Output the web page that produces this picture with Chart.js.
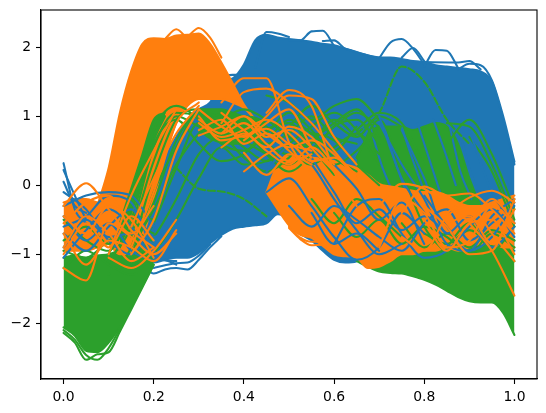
<!DOCTYPE html>
<html>
<head>
<meta charset="utf-8">
<style>
  html, body { margin: 0; background: #fff; }
  #wrap { width: 546px; height: 413px; }
</style>
<script src="https://cdn.jsdelivr.net/npm/chart.js@4/dist/chart.umd.min.js"></script>
</head>
<body>
<div id="wrap"><canvas id="chart"></canvas></div>
<script>
const _ = null;
const BLUE = '#1f77b4', ORANGE = '#ff7f0e', GREEN = '#2ca02c';

const xTicks = [0, 0.2, 0.4, 0.6, 0.8, 1];
const yTicks = [-2, -1, 0, 1, 2];

// fine grid (0.025) for the outer edges of the dense bundles
const xFine = [0, .025, .05, .075, .1, .125, .15, .175, .2, .225, .25, .275, .3, .325, .35, .375, .4, .425, .45, .475, .5,
  .525, .55, .575, .6, .625, .65, .675, .7, .725, .75, .775, .8, .825, .85, .875, .9, .925, .95, .975, 1];
// coarse grid (0.05) for single curves picked out of the bundles
const xCoarse = [0, .05, .1, .15, .2, .25, .3, .35, .4, .45, .5, .55, .6, .65, .7, .75, .8, .85, .9, .95, 1];

const blueTop = [_, _, _, _, _, -1, -.9, -.6, 0, .4, .7, .95, 1.1, 1.2, 1.5, 1.55, 1.75, 2.1, 2.18, 2.14, 2.12,
  2.1, 2.08, 2.05, 2.03, 1.98, 1.93, 1.88, 1.85, 1.85, 1.83, 1.8, 1.78, 1.74, 1.72, 1.7, 1.68, 1.65, 1.5, .95, .3];
const blueBottom = [_, _, _, _, _, -1.1, -1.1, -1.1, -1.12, -1.08, -1.05, -1.05, -.98, -.84, -.72, -.63, -.6, -.58, -.55, -.42, -.5,
  -.7, -.8, -.95, -1.08, -1.12, -1.1, -1, -1, -.95, -.95, -.95, -.95, -.95, -.95, -.95, -.95, -.95, -.95, -.95, -.95];
const blueEdgeA = [_, _, _, _, _, _, _, -1.15, -1.28, -1.22, -1.2, -1.22, -1.08, -.9, -.74, _, _, _, _, _, _,
  _, _, _, _, _, _, _, _, _, _, _, _, _, _, _, _, _, _, _, _];
const blueEdgeB = [_, _, _, _, _, _, _, _, -1.2, -1.16, -1.13, -1.12, -1.02, -.86, _, _, _, _, _, _, _,
  _, _, _, _, _, _, _, _, _, _, _, _, _, _, _, _, _, _, _, _];

const greenLeftTop = [-1.05, -1.02, -1.05, -1.02, -1, -.95, -.95, -.95, -1, _, _, _, _, _, _, _, _, _, _, _, _,
  _, _, _, _, _, _, _, _, _, _, _, _, _, _, _, _, _, _, _, _];
const greenLeftBottom = [-2.06, -2.18, -2.4, -2.42, -2.28, -2.05, -1.76, -1.46, -1.15, _, _, _, _, _, _, _, _, _, _, _, _,
  _, _, _, _, _, _, _, _, _, _, _, _, _, _, _, _, _, _, _, _];
const greenEdgeA = [-2.14, -2.28, -2.53, -2.45, -2.42, -2.12, -1.8, -1.48, -1.15, _, _, _, _, _, _, _, _, _, _, _, _,
  _, _, _, _, _, _, _, _, _, _, _, _, _, _, _, _, _, _, _, _];
const greenEdgeB = [-2.1, -2.24, -2.46, -2.53, -2.36, -2.08, -1.78, _, _, _, _, _, _, _, _, _, _, _, _, _, _,
  _, _, _, _, _, _, _, _, _, _, _, _, _, _, _, _, _, _, _, _];
const greenStripeTop = [_, _, _, _, _, -.55, -.05, .45, .95, 1.05, _, _, _, _, _, _, _, _, _, _, _,
  _, _, _, _, _, _, _, _, _, _, _, _, _, _, _, _, _, _, _, _];
const greenStripeBottom = [_, _, _, _, _, -.9, -.4, .1, .65, 1, _, _, _, _, _, _, _, _, _, _, _,
  _, _, _, _, _, _, _, _, _, _, _, _, _, _, _, _, _, _, _, _];
const greenMidTop = [_, _, _, _, _, _, _, _, _, _, _, _, 1.1, 1.1, 1.1, 1.05, 1, .98, .9, _, _,
  _, _, _, _, _, _, _, _, _, _, _, _, _, _, _, _, _, _, _, _];
const greenMidBottom = [_, _, _, _, _, _, _, _, _, _, _, _, .8, .68, .62, .6, .62, .7, .9, _, _,
  _, _, _, _, _, _, _, _, _, _, _, _, _, _, _, _, _, _, _, _];
const greenRightTop = [_, _, _, _, _, _, _, _, _, _, _, _, _, _, _, _, _, _, _, _, _,
  _, _, _, _, _, .4, .7, .85, .85, .85, .8, .85, .9, .85, .6, .1, -.3, -.6, -.7, -.8];
const greenRightBottom = [_, _, _, _, _, _, _, _, _, _, _, _, _, _, _, _, _, _, _, _, _,
  _, _, _, _, _, -1.1, -1.18, -1.25, -1.27, -1.28, -1.32, -1.37, -1.44, -1.53, -1.62, -1.68, -1.7, -1.7, -1.85, -2.17];

const orangeBodyTop = [_, _, _, -.3, .25, 1.05, 1.65, 2.05, 2.13, 2.12, 2.17, 2.18, 2.2, 2.05, 1.78, 1.48, 1.17, .95, _, _, _,
  _, _, _, _, _, _, _, _, _, _, _, _, _, _, _, _, _, _, _, _];
const orangeBodyBottom = [_, _, _, -.8, -.85, -1, -1, -.75, -.2, .4, .9, 1.15, 1.25, 1.25, 1.25, 1.2, 1.12, .95, _, _, _,
  _, _, _, _, _, _, _, _, _, _, _, _, _, _, _, _, _, _, _, _];
const orangeStartTop = [-.25, -.2, -.2, -.25, -.3, _, _, _, _, _, _, _, _, _, _, _, _, _, _, _, _,
  _, _, _, _, _, _, _, _, _, _, _, _, _, _, _, _, _, _, _, _];
const orangeStartBottom = [-.95, -.95, -.95, -.9, -.85, _, _, _, _, _, _, _, _, _, _, _, _, _, _, _, _,
  _, _, _, _, _, _, _, _, _, _, _, _, _, _, _, _, _, _, _, _];
const orangeDipTop = [_, _, _, _, _, _, _, _, _, _, _, _, _, _, _, _, _, _, -.1, .3, .42,
  .42, .4, .38, .35, .3, .25, .15, .02, -.02, -.05, -.08, -.1, -.1, -.15, -.25, -.3, -.3, -.25, -.2, -.15];
const orangeDipBottom = [_, _, _, _, _, _, _, _, _, _, _, _, _, _, _, _, _, _, -.1, -.35, -.58,
  -.72, -.76, -.88, -1, -1.03, -1.05, -1.2, -1.18, -1.1, -1, -1, -.95, -.95, -.9, -.95, -.9, -.85, -.85, -.9, -.9];
const orangeEdgeB = [_, _, _, _, _, _, _, _, _, _, _, _, _, _, _, _, _, _, _, _, -.62,
  -.78, -.87, -.86, -1, _, _, _, _, _, _, _, _, _, _, _, _, _, _, _, _];
const orangeEdgeC = [_, _, _, _, _, _, _, _, _, _, _, _, _, _, _, _, _, _, _, _, -.6,
  -.76, -.82, -.82, -.95, _, _, _, _, _, _, _, _, _, _, _, _, _, _, _, _];

// bumps standing above the top of the blue bundle
const blueCrestA = [_, _, _, _, _, _, _, _, _, _, _, _, _, _, _, _, _, _, _, _, 2.1,
  2.1, 2.23, 2.24, 2.02, _, _, _, _, _, _, _, _, _, _, _, _, _, _, _, _];
const blueCrestB = [_, _, _, _, _, _, _, _, _, _, _, _, _, _, _, _, _, _, _, _, _,
  _, _, _, _, _, _, _, 1.84, 2.07, 2.12, 1.98, 1.75, _, _, _, _, _, _, _, _];
const blueCrestC = [_, _, _, _, _, _, _, _, _, _, _, _, _, _, _, _, _, _, _, _, _,
  _, _, _, _, _, _, _, _, _, _, _, 1.72, 1.96, 1.95, 1.7, _, _, _, _, _];
const blueCrestD = [_, _, _, _, _, _, _, _, _, _, _, _, _, _, _, _, _, _, _, _, _,
  _, _, _, _, _, _, _, _, _, _, _, _, _, _, 1.68, 1.76, 1.74, 1.52, 1, .34];
const blueCrestE = [_, _, _, _, _, _, _, _, _, _, _, _, _, _, _, _, _, 1.7, 2.22, 2.2, 2.15,
  _, _, _, _, _, _, _, _, _, _, _, _, _, _, _, _, _, _, _, _];
const blueCrestF = [_, _, _, _, _, _, _, _, _, _, _, _, _, _, _, _, _, _, _, _, _,
  _, _, _, _, _, _, _, _, _, 1.85, 1.99, 1.8, _, _, _, _, _, _, _, _];
const blueCrestG = [_, _, _, _, _, _, _, _, _, _, _, _, _, _, _, _, _, _, _, _, _,
  _, _, 2.09, 2.1, 1.98, _, _, _, _, _, _, _, _, _, 1.78, 1.8, 1.68, _, _, _];
const orangeCrestA = [_, _, _, _, _, _, _, _, _, 2.12, 2.26, 2.12, _, _, _, _, _, _, _, _, _,
  _, _, _, _, _, _, _, _, _, _, _, _, _, _, _, _, _, _, _, _];
const orangeCrestB = [_, _, _, _, _, _, _, _, _, _, _, 2.15, 2.28, 2.14, 1.85, _, _, _, _, _, _,
  _, _, _, _, _, _, _, _, _, _, _, _, _, _, _, _, _, _, _, _];
const blueSpikes = [
  [.32, -.35, -.55, _, _, _, _, _, _, _, _, _, _, _, _, _, _, _, _, _, _, _, _, _, _, _, _, _, _, _, _, _, _, _, _, _, _, _, _, _, _],
  [.22, -.15, -.5, _, _, _, _, _, _, _, _, _, _, _, _, _, _, _, _, _, _, _, _, _, _, _, _, _, _, _, _, _, _, _, _, _, _, _, _, _, _],
  [.05, -.3, -.4, _, _, _, _, _, _, _, _, _, _, _, _, _, _, _, _, _, _, _, _, _, _, _, _, _, _, _, _, _, _, _, _, _, _, _, _, _, _]
];
const blueFlat = [_, _, _, _, _, _, _, _, _, _, _, _, _, _, 1.58, 1.6, 1.6, 1.6, _, _, _,
  _, _, _, _, _, _, _, _, _, _, _, _, _, _, _, _, _, _, _, _];

// steep streaks through the green part on the right: first x, then values every 0.025
const stripeStarts = [.68, .71, .745, .785, .82, .855, .875];
const stripeValues = [
  [.85, .3, -.1], [.9, .35, -.1], [.95, .45, 0], [.9, .4, -.1], [.95, .5, 0], [.9, .2, -.2], [.85, .25, -.2]
];

const blueCurves = [
  [-.3, -.15, -.1, -.15, -.6, _, _, _, _, _, _, _, _, _, _, _, _, _, _, _, _],
  [-.6, -.45, -.15, -.25, -.95, -1.15, _, _, _, _, _, _, _, _, _, _, _, _, _, _, _],
  [-.9, -.5, -.75, -.7, -.85, -.95, _, _, _, _, _, _, _, _, _, _, _, _, _, _, _],
  [-.1, -.35, -.8, -1, -.55, _, _, _, _, _, _, _, _, _, _, _, _, _, _, _, _],
  [-.7, -.95, -.6, -.35, -.75, -.5, _, _, _, _, _, _, _, _, _, _, _, _, _, _, _],
  [-1.05, -.65, -.35, -.6, -1.05, -1.1, _, _, _, _, _, _, _, _, _, _, _, _, _, _, _],
  [-.45, -.8, -.55, -.95, -1.1, _, _, _, _, _, _, _, _, _, _, _, _, _, _, _, _],
  [_, _, _, _, _, _, _, _, _, .2, .55, .3, -.2, -.65, -1, -.85, _, _, _, _, _],
  [_, _, _, _, _, _, _, _, _, -.1, .1, -.3, -.75, -1.08, -.9, -.4, -.7, _, _, _, _],
  [_, _, _, _, _, _, _, _, _, _, -.3, -.6, -.3, -.5, -.75, -.95, -.55, -.35, -.8, -.55, -.3],
  [_, _, _, _, _, _, _, _, _, _, _, _, -.85, -.3, -.2, -.7, -1.05, -.95, -.6, -.35, -.75],
  [_, _, _, _, _, _, _, _, _, _, _, _, _, _, .9, .3, -.2, -.85, -.95, -.45, -.2],
  [_, _, _, _, _, _, _, _, _, _, _, _, _, _, _, .8, .1, -.7, -.45, -.9, -.6],
  [_, _, _, _, _, _, _, _, _, _, _, _, _, _, _, _, _, _, .8, -.1, -.55],
  [_, _, _, _, _, _, _, _, _, _, _, _, _, _, 1, .1, -.4, _, _, _, _],
  [_, _, _, _, _, _, _, _, _, _, _, _, _, _, _, _, -.15, -.6, -.95, -.75, -.25],
  [_, _, _, _, _, _, _, _, _, _, _, .4, -.1, -.55, -.35, -.65, -.45, -.7, _, _, _],
  [_, _, _, _, _, _, _, _, _, _, _, _, .3, -.05, -.5, -.25, -.85, _, _, _, _],
  [_, _, _, _, _, _, _, _, _, _, _, -.4, -.85, -.7, -.95, _, _, _, _, _, _]
];
const greenCurves = [
  [_, _, -1.1, -.6, .55, 1.05, 1, .85, .8, .7, .95, .75, .5, .85, _, _, _, _, _, _, _],
  [_, _, -1.3, -.9, .15, .95, 1.1, 1, .75, .6, .75, 1, .7, .6, _, _, _, _, _, _, _],
  [_, _, _, -1, -.25, .65, 1.05, 1.05, .9, .6, .45, .65, .9, 1.1, .7, _, _, _, _, _, _],
  [_, _, _, -.75, .35, 1, .85, .7, .95, .85, .5, .3, .55, .75, .45, _, _, _, _, _, _],
  [_, _, -1, -.35, .8, 1.15, .95, .6, .5, .75, 1.05, .8, .4, .2, _, _, _, _, _, _, _],
  [_, _, _, -1.1, -.55, .25, .9, .8, .55, .35, .6, .85, 1.05, .8, .3, _, _, _, _, _, _],
  [_, _, _, -1.05, -.75, -.2, .45, .7, .4, .2, .4, .75, .65, .3, 0, _, _, _, _, _, _],
  [_, _, -1.15, -.5, .6, .95, .6, .35, .45, .8, .9, .55, .15, _, _, _, _, _, _, _, _],
  [_, _, _, -1.1, -.1, .55, 1.05, .9, .65, .45, .3, .6, .95, .7, _, _, _, _, _, _, _],
  [_, _, _, -.9, -.35, .3, .75, 1, .8, .45, .2, .45, .85, .95, .6, _, _, _, _, _, _],
  [_, _, _, _, -1, -.5, .1, .55, .3, .35, .55, .65, .3, .5, .85, _, _, _, _, _, _],
  [_, _, _, _, _, _, _, .95, 1.1, .95, .7, .55, .85, 1.05, .85, _, _, _, _, _, _],
  [_, _, _, _, _, _, _, _, _, 1.3, 1.2, .95, 1.15, 1.25, .95, _, _, _, _, _, _],
  [_, _, _, _, _, _, _, _, _, _, .85, 1.15, .9, .7, 1, .85, _, _, _, _, _],
  [-.95, -1.05, -.8, -.65, -.85, _, _, _, _, _, _, _, _, _, _, _, _, _, _, _, _],
  [-.5, -.8, -.95, -.55, -.7, _, _, _, _, _, _, _, _, _, _, _, _, _, _, _, _],
  [-.8, -.6, -.85, -.45, -.5, _, _, _, _, _, _, _, _, _, _, _, _, _, _, _, _],
  [-1.2, -.95, -1.15, -1.3, -1, _, _, _, _, _, _, _, _, _, _, _, _, _, _, _, _],
  [_, _, _, _, _, _, _, _, _, _, _, _, _, .4, .95, .2, -.6, -1, _, _, _],
  [_, _, _, _, _, _, _, _, _, _, _, _, _, _, _, _, _, -.9, -.55, -.95, -.6],
  [_, _, _, _, _, _, _, _, _, _, _, _, -.4, -.75, -.5, -.85, -.6, -.75, -1, -.7, -.9],
  [_, _, _, _, _, _, _, _, _, _, _, _, _, .8, 1.05, .9, .3, _, _, _, _],
  [_, _, _, _, _, _, _, _, _, _, _, _, _, _, _, _, _, .9, .85, .3, -.5],
  [_, _, _, _, _, _, _, _, _, _, _, _, _, _, _, _, _, .6, .95, .45, -.35],
  [_, _, _, _, _, _, _, _, _, _, _, _, _, _, _, _, _, _, .7, .2, -.6],
  [_, _, _, _, _, _, _, _, _, _, _, _, _, _, _, _, -.7, -.85, -.65, -.9, -1.1],
  [_, _, _, _, _, _, _, _, _, _, _, _, _, _, _, -.55, -.9, -.7, -.9, -.65, -.8],
  [_, _, _, _, _, _, _, _, _, _, _, -.2, -.55, -.2, -.45, -.75, _, _, _, _, _]
];
const greenArcs = [
  [_, _, _, _, _, _, _, _, _, _, _, _, _, .75, 1.05, 1.72, 1.5, .95, .6, _, _],
  [_, _, _, _, _, .25, -.05, -.09, -.2, -.45, _, _, _, _, _, _, _, _, _, _, _]
];
const orangeCurves = [
  [-.3, .03, -.35, -.7, -.3, _, _, _, _, _, _, _, _, _, _, _, _, _, _, _, _],
  [-.55, -.25, -.15, -.65, -.9, _, _, _, _, _, _, _, _, _, _, _, _, _, _, _, _],
  [-1.2, -1.38, -.55, -.75, -1, -.7, _, _, _, _, _, _, _, _, _, _, _, _, _, _, _],
  [-.9, -.45, -.7, -1.1, -.9, _, _, _, _, _, _, _, _, _, _, _, _, _, _, _, _],
  [-.7, -1.15, -.8, -.9, -1.1, -.65, _, _, _, _, _, _, _, _, _, _, _, _, _, _, _],
  [-.45, -.7, -.3, -.5, -1.05, _, _, _, _, _, _, _, _, _, _, _, _, _, _, _, _],
  [-1, -.55, -.9, -.45, -.8, _, _, _, _, _, _, _, _, _, _, _, _, _, _, _, _],
  [_, _, -1.05, -1.2, -.95, -.5, _, _, _, _, _, _, _, _, _, _, _, _, _, _, _],
  [_, _, _, -.9, -.1, .9, 1.2, _, _, _, _, _, _, _, _, _, _, _, _, _, _],
  [_, _, _, -1, -.5, .5, 1.1, _, _, _, _, _, _, _, _, _, _, _, _, _, _],
  [_, _, -1, -.15, .5, 1.1, _, _, _, _, _, _, _, _, _, _, _, _, _, _, _],
  [_, _, _, -.6, .1, .75, 1.15, _, _, _, _, _, _, _, _, _, _, _, _, _, _],
  [_, _, _, _, _, _, _, 1.2, 1.55, 1.55, .62, .15, _, _, _, _, _, _, _, _, _],
  [_, _, _, _, _, _, _, _, _, 1.05, 1.38, 1.15, .2, -.3, _, _, _, _, _, _, _],
  [_, _, _, _, _, _, _, .9, 1.35, 1.4, 1.2, .9, .5, .1, _, _, _, _, _, _, _],
  [_, _, _, _, _, _, 1.1, .85, .7, 1, 1.3, 1.25, .7, .3, _, _, _, _, _, _, _],
  [_, _, _, _, _, _, _, .75, 1, .75, .55, .65, .45, .1, _, _, _, _, _, _, _],
  [_, _, _, _, _, _, _, 1.05, .8, .55, .85, .7, .3, _, _, _, _, _, _, _, _],
  [_, _, _, _, _, _, _, _, .65, .9, 1.1, .55, .2, _, _, _, _, _, _, _, _],
  [_, _, _, _, _, _, .95, .75, .9, .6, .35, .45, _, _, _, _, _, _, _, _, _],
  [_, _, _, _, _, _, .8, .95, .6, .75, .5, .2, _, _, _, _, _, _, _, _, _],
  [_, _, _, _, _, _, .9, .7, .8, .95, .75, .4, _, _, _, _, _, _, _, _, _],
  [_, _, _, _, _, _, .72, .85, 1, .7, .8, .55, _, _, _, _, _, _, _, _, _],
  [_, _, _, _, _, _, 1, .65, .72, .82, .6, .5, _, _, _, _, _, _, _, _, _],
  [_, _, _, _, _, _, _, .55, .75, .5, .3, .55, .25, _, _, _, _, _, _, _, _],
  [_, _, _, _, _, _, _, _, .47, .15, .45, .3, _, _, _, _, _, _, _, _, _],
  [_, _, _, _, _, _, _, _, .2, .45, .6, .35, .4, .15, _, _, _, _, _, _, _],
  [_, _, _, _, _, _, _, _, _, _, _, _, _, _, -.9, -.2, -.4, -.9, -.8, -.3, -.55],
  [_, _, _, _, _, _, _, _, _, _, _, _, _, _, _, -.75, -.95, -.45, -.3, -.7, -1.1],
  [_, _, _, _, _, _, _, _, _, _, _, _, _, _, _, _, -.5, -.95, -.55, -.5, -1],
  [_, _, _, _, _, _, _, _, _, _, _, _, _, _, _, _, _, -.55, -.45, -.85, -.35],
  [_, _, _, _, _, _, _, _, _, _, _, _, _, _, _, _, _, _, -.55, -.95, -1.6],
  [_, _, _, _, _, _, _, _, _, _, _, _, _, _, _, _, -.3, -.6, -1, -.95, -.2],
  [_, _, _, _, _, _, _, _, _, _, _, _, _, _, -.3, .02, -.05, -.3, -.5, -.2, -.55],
  [_, _, _, _, _, _, _, _, _, _, _, _, _, _, _, -.4, -.02, -.15, -.12, -.35, -.7],
  [_, _, _, _, _, _, _, _, _, _, _, _, _, _, _, _, _, -.4, -.18, -.08, -.25]
];

function zip(ys) {
  const xs = ys.length === xFine.length ? xFine : xCoarse;
  const pts = [];
  ys.forEach((y, i) => { if (y !== null) pts.push({ x: xs[i], y: y }); });
  return pts;
}
function curve(ys, color, dash) {
  return { data: zip(ys), borderColor: color, borderWidth: 2.08, borderDash: dash || [], fill: false };
}
function stripe(start, ys, color) {
  return { data: ys.map((y, i) => ({ x: start + i * 0.025, y: y })), borderColor: color, borderWidth: 2.08, fill: false };
}
// two datasets: the upper edge fills down to the lower edge
function band(top, bottom, color) {
  return [
    { data: zip(top), borderColor: color, borderWidth: 2.08, backgroundColor: color, fill: '+1' },
    { data: zip(bottom), borderColor: color, borderWidth: 2.08, fill: false }
  ];
}

const datasets = [
  ...band(blueTop, blueBottom, BLUE),
  curve(blueEdgeA, BLUE), curve(blueEdgeB, BLUE),
  curve(blueCrestA, BLUE), curve(blueCrestB, BLUE), curve(blueCrestC, BLUE), curve(blueCrestD, BLUE), curve(blueCrestE, BLUE),
  curve(blueCrestF, BLUE), curve(blueCrestG, BLUE), curve(blueFlat, BLUE),
  ...band(greenLeftTop, greenLeftBottom, GREEN),
  curve(greenEdgeA, GREEN), curve(greenEdgeB, GREEN),
  ...band(greenRightTop, greenRightBottom, GREEN),
  ...stripeStarts.map((s, i) => stripe(s, stripeValues[i], BLUE)),
  ...band(orangeStartTop, orangeStartBottom, ORANGE),
  ...band(orangeBodyTop, orangeBodyBottom, ORANGE),
  ...band(greenStripeTop, greenStripeBottom, GREEN),
  ...band(greenMidTop, greenMidBottom, GREEN),
  ...band(orangeDipTop, orangeDipBottom, ORANGE),
  curve(orangeEdgeB, ORANGE), curve(orangeEdgeC, ORANGE),
  curve(orangeCrestA, ORANGE), curve(orangeCrestB, ORANGE),
  ...blueSpikes.map(l => curve(l, BLUE)),
  ...greenCurves.map(l => curve(l, GREEN)),
  ...greenArcs.map(l => curve(l, GREEN, [7, 3])),
  ...blueCurves.map(l => curve(l, BLUE)),
  ...orangeCurves.map(l => curve(l, ORANGE))
];
// Chart.js paints the lowest order last, so later datasets go on top
datasets.forEach((d, i) => { d.order = datasets.length - i; });

const spines = {
  id: 'spines',
  afterDraw(chart) {
    const a = chart.chartArea, ctx = chart.ctx;
    ctx.save();
    ctx.strokeStyle = '#000';
    ctx.lineWidth = 1.1;
    ctx.strokeRect(a.left, a.top, a.right - a.left, a.bottom - a.top);
    ctx.restore();
  }
};

const tickFont = { family: 'DejaVu Sans', size: 13.9 };

new Chart(document.getElementById('chart'), {
  type: 'line',
  data: { datasets: datasets },
  plugins: [spines],
  options: {
    responsive: true,
    maintainAspectRatio: false,
    animation: false,
    layout: { padding: { top: 10, right: 9, left: 0, bottom: 0 } },
    elements: {
      point: { radius: 0 },
      line: { cubicInterpolationMode: 'monotone', borderCapStyle: 'round', borderJoinStyle: 'round' }
    },
    plugins: { legend: { display: false }, tooltip: { enabled: false } },
    scales: {
      x: {
        type: 'linear', min: -0.05, max: 1.05,
        grid: { drawOnChartArea: false, drawTicks: true, tickLength: 5, tickColor: '#000', tickWidth: 1.1 },
        border: { color: '#000', width: 1.1 },
        afterBuildTicks: s => { s.ticks = xTicks.map(v => ({ value: v })); },
        afterFit: s => { s.height = 34; s.paddingLeft = 0; s.paddingRight = 0; },
        ticks: {
          color: '#000', font: tickFont, padding: 5, maxRotation: 0, autoSkip: false,
          callback: v => v.toFixed(1)
        }
      },
      y: {
        type: 'linear', min: -2.808, max: 2.54,
        grid: { drawOnChartArea: false, drawTicks: true, tickLength: 5, tickColor: '#000', tickWidth: 1.1 },
        border: { color: '#000', width: 1.1 },
        afterBuildTicks: s => { s.ticks = yTicks.map(v => ({ value: v })); },
        afterFit: s => { s.width = 41; s.paddingTop = 0; s.paddingBottom = 0; },
        ticks: {
          color: '#000', font: tickFont, padding: 5, autoSkip: false,
          callback: v => (v < 0 ? '\u2212' + Math.abs(v) : String(v))
        }
      }
    }
  }
});
</script>
</body>
</html>
